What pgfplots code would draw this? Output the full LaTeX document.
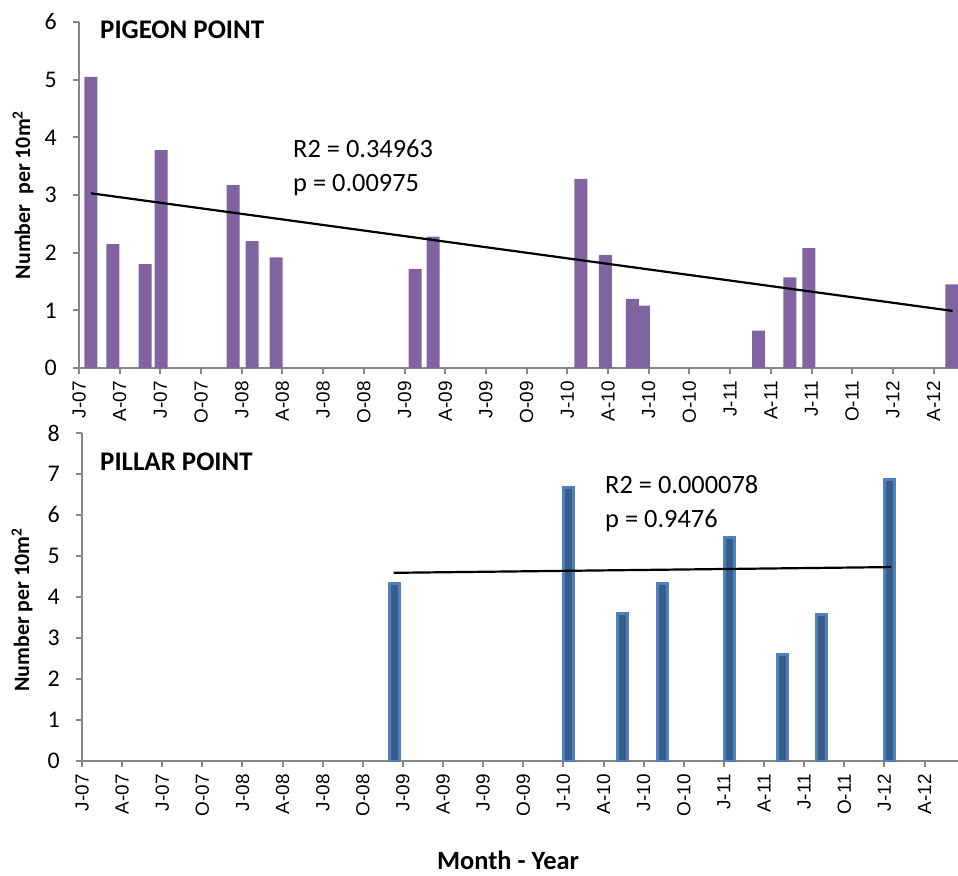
\documentclass[border=0pt]{standalone}
\usepackage{pgfplots}
\pgfplotsset{compat=1.18}
\usepackage{fontspec}
\setmainfont{Carlito}
\newfontfamily\arialfont{Liberation Sans}
\definecolor{axgray}{HTML}{868686}
\definecolor{pp}{HTML}{8064A2}
\definecolor{bborder}{HTML}{4F81BD}
\definecolor{bfill}{HTML}{385D8A}
\pgfplotsset{
 myaxis/.style={
  scale only axis, anchor=south west,
  axis lines=left, axis line style={-, axgray, line width=2bp},
  xmin=0, ymin=0,
  xtick={0,3,...,63},
  xticklabels={J-07,A-07,J-07,O-07,J-08,A-08,J-08,O-08,J-09,A-09,J-09,O-09,J-10,A-10,J-10,O-10,J-11,A-11,J-11,O-11,J-12,A-12},
  tick align=outside, major tick length=6bp,
  tick style={axgray, line width=2bp},
  x tick label style={font=\arialfont\fontsize{19}{19}\selectfont, rotate=90, anchor=east, inner sep=7bp},
  y tick label style={font=\fontsize{24}{24}\selectfont, inner sep=3bp, xshift=-13bp},
  /pgf/number format/assume math mode=true,
  clip=true,
 }
}
\begin{document}
\begin{tikzpicture}
\path[use as bounding box] (0bp,0bp) rectangle (958bp,-876bp);

\begin{axis}[myaxis, at={(79bp,-368bp)}, width=879bp, height=346bp,
  xmax=64.8, ymax=6, ytick={0,1,...,6}]
\addplot[ybar, bar width=13bp, fill=pp, draw=none] coordinates {
 (0.88,5.05) (2.5,2.15) (4.87,1.8) (6.05,3.78) (11.36,3.17) (12.76,2.2)
 (14.53,1.92) (24.78,1.72) (26.1,2.28) (37.0,3.28) (38.8,1.96) (40.8,1.2)
 (41.6,1.08) (50.1,0.65) (52.4,1.57) (53.8,2.08) (64.35,1.45)};
\addplot[black, line width=2.2bp, no marks] coordinates {(0.88,3.03) (64.4,0.99)};
\end{axis}

\begin{axis}[myaxis, at={(82bp,-761bp)}, width=876bp, height=328bp,
  xmax=65.5, ymax=8, ytick={0,1,...,8}]
\addplot[ybar, bar width=10bp, fill=bfill, draw=bborder, line width=3bp] coordinates {
 (23.4,4.34) (36.4,6.68) (40.4,3.61) (43.4,4.32) (48.4,5.46) (52.4,2.61)
 (55.3,3.58) (60.4,6.87)};
\addplot[black, line width=2.2bp, no marks] coordinates {(23.3,4.59) (60.5,4.73)};
\end{axis}

\node[anchor=base west, inner sep=0, font=\bfseries\fontsize{27}{27}\selectfont] at (100bp,-38bp) {PIGEON POINT};
\node[anchor=base west, inner sep=0, font=\fontsize{26.5}{26.5}\selectfont] at (293bp,-157bp) {R2 = 0.34963};
\node[anchor=base west, inner sep=0, font=\fontsize{26.5}{26.5}\selectfont] at (293bp,-191bp) {p = 0.00975};

\node[anchor=base west, inner sep=0, font=\bfseries\fontsize{27}{27}\selectfont] at (100bp,-470bp) {PILLAR POINT};
\node[anchor=base west, inner sep=0, font=\fontsize{26.5}{26.5}\selectfont] at (605bp,-493bp) {R2 = 0.000078};
\node[anchor=base west, inner sep=0, font=\fontsize{26.5}{26.5}\selectfont] at (605bp,-527bp) {p = 0.9476};

\node[rotate=90, inner sep=0, font=\bfseries\fontsize{22}{22}\selectfont] at (23bp,-195bp) {Number\ \ per 10m\textsuperscript{2}};
\node[rotate=90, inner sep=0, font=\bfseries\fontsize{22}{22}\selectfont] at (22bp,-610bp) {Number per 10m\textsuperscript{2}};

\node[inner sep=0, font=\bfseries\fontsize{26.5}{26.5}\selectfont] at (508bp,-860bp) {Month - Year};
\end{tikzpicture}
\end{document}
